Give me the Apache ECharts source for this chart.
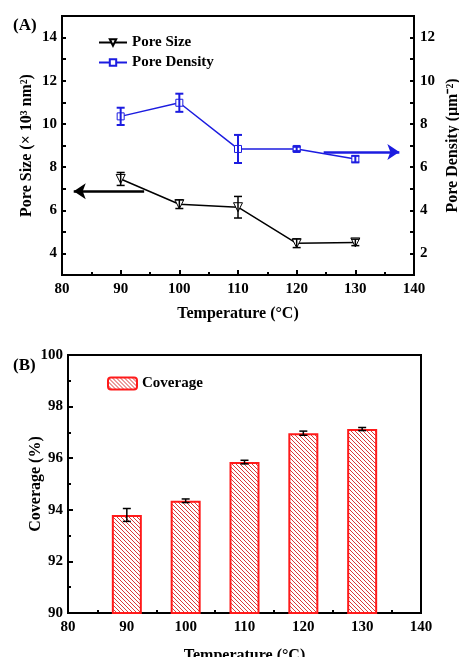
<!DOCTYPE html>
<html>
<head>
<meta charset="utf-8">
<script src="https://cdn.jsdelivr.net/npm/echarts@6/dist/echarts.min.js"></script>
<style>
  html, body { margin: 0; padding: 0; background: #fff; }
  #chart { width: 459px; height: 657px; }
</style>
</head>
<body>
<div id="chart"></div>
<script>
  // data
  var temps = [90, 100, 110, 120, 130];
  var poreSize = [7.45, 6.28, 6.14, 4.47, 4.51];
  var poreSizeErr = [0.3, 0.2, 0.5, 0.2, 0.15];
  var poreDensity = [8.35, 8.98, 6.84, 6.84, 6.37];
  var poreDensityErr = [0.4, 0.42, 0.65, 0.1, 0.15];
  var coverage = [93.8, 94.35, 95.85, 96.97, 97.13];
  var coverageErr = [0.25, 0.07, 0.07, 0.08, 0.06];
  // arrows: [xStart, xEnd, y]
  var sizeArrow = [94, 82, 6.88];
  var densityArrow = [124.6, 137.5, 6.7];

  var FONT = '"Liberation Serif", "Times New Roman", serif';
  var BLUE = '#1c1ce0';

  // hatch pattern for the bars
  var hatch = document.createElement('canvas');
  hatch.width = 4; hatch.height = 4;
  var ctx = hatch.getContext('2d');
  ctx.fillStyle = '#fff';
  ctx.fillRect(0, 0, 4, 4);
  ctx.fillStyle = '#d83a3a';
  for (var i = 0; i < 4; i++) ctx.fillRect(i, i, 1, 1);

  function pairs(xs, ys) {
    return xs.map(function (x, i) { return [x, ys[i]]; });
  }
  function errData(xs, ys, es) {
    return xs.map(function (x, i) { return [x, ys[i] - es[i], ys[i] + es[i]]; });
  }
  function errRender(color, lw) {
    return function (params, api) {
      var x = api.value(0);
      var lo = api.coord([x, api.value(1)]);
      var hi = api.coord([x, api.value(2)]);
      var w = 4;
      var st = { stroke: color, lineWidth: lw };
      return {
        type: 'group',
        children: [
          { type: 'line', shape: { x1: lo[0], y1: lo[1], x2: hi[0], y2: hi[1] }, style: st },
          { type: 'line', shape: { x1: lo[0] - w, y1: lo[1], x2: lo[0] + w, y2: lo[1] }, style: st },
          { type: 'line', shape: { x1: hi[0] - w, y1: hi[1], x2: hi[0] + w, y2: hi[1] }, style: st }
        ]
      };
    };
  }

  var labelStyle = { color: '#000', fontFamily: FONT, fontWeight: 'bold', fontSize: 15 };
  var nameStyle = { color: '#000', fontFamily: FONT, fontWeight: 'bold', fontSize: 16 };
  var axLine = { show: true, lineStyle: { color: '#000', width: 2 } };
  var evenOnly = function (v) { return v % 2 === 0 ? v : ''; };

  function xAxisOf(gi, gap) {
    return {
      type: 'value', gridIndex: gi, min: 80, max: 140, interval: 10,
      name: 'Temperature (°C)', nameLocation: 'middle', nameGap: gap, nameMoveOverlap: false,
      nameTextStyle: nameStyle,
      axisLine: axLine,
      axisTick: { inside: true, length: 5, lineStyle: { color: '#000', width: 2 } },
      minorTick: { show: true, splitNumber: 2, length: 3, lineStyle: { color: '#000', width: 2 } },
      axisLabel: Object.assign({ margin: 7 }, labelStyle),
      splitLine: { show: false }
    };
  }

  var myChart = echarts.init(document.getElementById('chart'));
  var option = {
    animation: false,
    backgroundColor: '#fff',
    title: [
      { text: '(A)', left: 8, top: 12, textStyle: { fontFamily: FONT, fontWeight: 'bold', fontSize: 17, color: '#000' } },
      { text: '(B)', left: 8, top: 352, textStyle: { fontFamily: FONT, fontWeight: 'bold', fontSize: 17, color: '#000' } }
    ],
    legend: [
      {
        data: ['Pore Size', 'Pore Density'], orient: 'vertical', left: 93, top: 30,
        itemWidth: 28, itemHeight: 8, itemGap: 5,
        textStyle: { fontFamily: FONT, fontWeight: 'bold', fontSize: 15, color: '#000' }
      },
      {
        data: ['Coverage'], left: 102, top: 371, itemWidth: 29, itemHeight: 12,
        textStyle: { fontFamily: FONT, fontWeight: 'bold', fontSize: 15, color: '#000' }
      }
    ],
    grid: [
      { left: 62, top: 16, width: 352, height: 259, show: true, borderColor: '#000', borderWidth: 2,
        containLabel: false, outerBoundsMode: 'none' },
      { left: 68, top: 355, width: 353, height: 258, show: true, borderColor: '#000', borderWidth: 2,
        containLabel: false, outerBoundsMode: 'none' }
    ],
    xAxis: [xAxisOf(0, 31), xAxisOf(1, 35)],
    yAxis: [
      {
        type: 'value', gridIndex: 0, min: 3, max: 15, interval: 1,
        name: 'Pore Size (× 10³ nm²)', nameLocation: 'middle', nameGap: 27, nameMoveOverlap: false,
        nameTextStyle: nameStyle, axisLine: axLine,
        axisTick: { inside: true, length: 4, lineStyle: { color: '#000', width: 2 } },
        axisLabel: Object.assign({ formatter: evenOnly, margin: 5 }, labelStyle),
        splitLine: { show: false }
      },
      {
        type: 'value', gridIndex: 0, position: 'right', min: 1, max: 13, interval: 1,
        name: 'Pore Density (μm⁻²)', nameLocation: 'middle', nameGap: 31, nameRotate: 90,
        nameMoveOverlap: false,
        nameTextStyle: nameStyle, axisLine: axLine,
        axisTick: { inside: true, length: 4, lineStyle: { color: '#000', width: 2 } },
        axisLabel: Object.assign({ formatter: evenOnly, margin: 6 }, labelStyle),
        splitLine: { show: false }
      },
      {
        type: 'value', gridIndex: 1, min: 90, max: 100, interval: 2,
        name: 'Coverage (%)', nameLocation: 'middle', nameGap: 24, nameMoveOverlap: false,
        nameTextStyle: nameStyle, axisLine: axLine,
        axisTick: { inside: true, length: 5, lineStyle: { color: '#000', width: 2 } },
        minorTick: { show: true, splitNumber: 2, length: 3, lineStyle: { color: '#000', width: 2 } },
        axisLabel: Object.assign({ margin: 5 }, labelStyle),
        splitLine: { show: false }
      }
    ],
    series: [
      {
        name: 'Pore Size', type: 'line', xAxisIndex: 0, yAxisIndex: 0,
        data: pairs(temps, poreSize),
        symbol: 'triangle', symbolRotate: 180, symbolSize: 9,
        lineStyle: { color: '#000', width: 1.5 },
        itemStyle: { color: '#fff', borderColor: '#000', borderWidth: 1 },
        z: 3,
        markLine: {
          silent: true, symbol: ['none', 'arrow'], symbolSize: [12, 12],
          label: { show: false },
          lineStyle: { color: '#000', width: 2.5, type: 'solid' },
          data: [[{ coord: [sizeArrow[0], sizeArrow[2]] }, { coord: [sizeArrow[1], sizeArrow[2]] }]]
        }
      },
      {
        name: 'Pore Density', type: 'line', xAxisIndex: 0, yAxisIndex: 1,
        data: pairs(temps, poreDensity),
        symbol: 'rect', symbolSize: 7,
        lineStyle: { color: BLUE, width: 1.5 },
        itemStyle: { color: '#fff', borderColor: BLUE, borderWidth: 1 },
        z: 3,
        markLine: {
          silent: true, symbol: ['none', 'arrow'], symbolSize: [12, 12],
          label: { show: false },
          lineStyle: { color: BLUE, width: 2.5, type: 'solid' },
          data: [[{ coord: [densityArrow[0], densityArrow[2]] }, { coord: [densityArrow[1], densityArrow[2]] }]]
        }
      },
      {
        type: 'custom', xAxisIndex: 0, yAxisIndex: 0, z: 4,
        renderItem: errRender('#000', 1.5),
        data: errData(temps, poreSize, poreSizeErr)
      },
      {
        type: 'custom', xAxisIndex: 0, yAxisIndex: 1, z: 4,
        renderItem: errRender(BLUE, 2),
        data: errData(temps, poreDensity, poreDensityErr)
      },
      {
        name: 'Coverage', type: 'bar', xAxisIndex: 1, yAxisIndex: 2,
        data: pairs(temps, coverage), barWidth: 30,
        itemStyle: { color: { image: hatch, repeat: 'repeat' }, borderColor: '#ff1a1a', borderWidth: 2 }
      },
      {
        type: 'custom', xAxisIndex: 1, yAxisIndex: 2, z: 4,
        renderItem: errRender('#000', 1.5),
        data: errData(temps, coverage, coverageErr)
      }
    ]
  };
  myChart.setOption(option);
</script>
</body>
</html>
